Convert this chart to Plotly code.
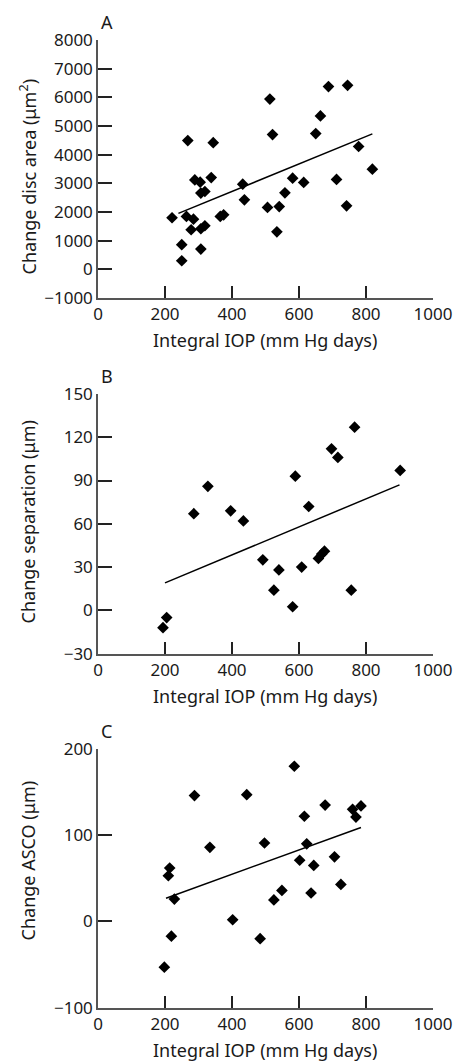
import plotly.graph_objects as go

# Panel A: change in disc area vs integral IOP
a_x = [221, 250, 250, 268, 264, 278, 285, 289, 305, 307, 319, 307, 319, 307, 338, 344,
       365, 375, 432, 437, 506, 513, 521, 534, 541, 558, 581, 614, 650, 664, 688, 712,
       742, 745, 778, 819]
a_y = [1800, 860, 300, 4490, 1845, 1380, 1750, 3120, 3040, 2660, 2715, 1415, 1520, 705,
       3200, 4420, 1845, 1900, 2970, 2425, 2160, 5940, 4700, 1310, 2190, 2670, 3180, 3030,
       4735, 5350, 6375, 3135, 2215, 6420, 4285, 3495]
a_fit_x = [240, 819]
a_fit_y = [1950, 4725]

# Panel B: change in separation
b_x = [194, 205, 286, 328, 396, 434, 492, 525, 540, 581, 589, 608, 629, 658, 668, 676,
       697, 716, 756, 766, 902]
b_y = [-12, -5, 67, 86, 69, 62, 35, 14, 28, 2.5, 93, 30, 72, 36, 39, 41, 112, 106, 14,
       127, 97]
b_fit_x = [200, 900]
b_fit_y = [19, 87]

# Panel C: change in ASCO
c_x = [198, 219, 210, 214, 228, 288, 334, 402, 444, 484, 497, 525, 549, 586, 602, 616,
       623, 636, 644, 678, 706, 725, 760, 770, 785]
c_y = [-53, -17, 53, 62, 26, 146, 86, 2, 147, -20, 91, 25, 36, 180, 71, 122, 90, 33, 65,
       135, 75, 43, 130, 121, 134]
c_fit_x = [203, 785]
c_fit_y = [27, 109]

x_ticks = [0, 200, 400, 600, 800, 1000]
a_ticks = [-1000, 0, 1000, 2000, 3000, 4000, 5000, 6000, 7000, 8000]
b_ticks = [-30, 0, 30, 60, 90, 120, 150]
c_ticks = [-100, 0, 100, 200]

x_title = "Integral IOP (mm Hg days)"
y_titles = ["Change disc area (\u03bcm<sup>2</sup>)", "Change separation (\u03bcm)",
            "Change ASCO (\u03bcm)"]
letters = ["A", "B", "C"]

FONT = "Noto Sans"
FS_TICK = 17
FS = 18
TXT = "#1a1a1a"
W, H = 464, 1061
ML, MR, MT, MB = 98, 24, 40, 53
PW = W - ML - MR
PH = H - MT - MB


def py(pix):
    return (H - MB - pix) / PH


def px(pix):
    return (pix - ML) / PW


panels = [
    (a_x, a_y, a_fit_x, a_fit_y, a_ticks, (40, 298), 176),
    (b_x, b_y, b_fit_x, b_fit_y, b_ticks, (394, 653.6), 522),
    (c_x, c_y, c_fit_x, c_fit_y, c_ticks, (749, 1007.7), 860),
]

fig = go.Figure()
annotations = []
layout_axes = {}
for i, (xs, ys, fx, fy, yt, (top, bot), ytc) in enumerate(panels):
    n = "" if i == 0 else str(i + 1)
    xa, ya = "x" + n, "y" + n
    fig.add_trace(go.Scatter(x=xs, y=ys, mode="markers", xaxis=xa, yaxis=ya,
                             marker=dict(symbol="diamond", size=9, color="black"),
                             showlegend=False, hoverinfo="skip"))
    fig.add_trace(go.Scatter(x=fx, y=fy, mode="lines", xaxis=xa, yaxis=ya,
                             line=dict(color="black", width=1.5),
                             showlegend=False, hoverinfo="skip"))
    common = dict(showline=True, linecolor="#555", linewidth=1.5, ticks="inside",
                  ticklen=14, tickwidth=1.5, tickcolor="#222", showgrid=False,
                  zeroline=False, tickfont=dict(family=FONT, size=FS_TICK, color=TXT))
    layout_axes["xaxis" + n] = dict(common, range=[0, 1000], tickvals=x_ticks,
                                    anchor=ya, domain=[0, 1], ticklen=12)
    layout_axes["yaxis" + n] = dict(common, range=[yt[0], yt[-1]], tickvals=yt,
                                    anchor=xa, domain=[py(bot), py(top)])
    annotations.append(dict(text=y_titles[i], xref="paper", yref="paper",
                            x=px(27), y=py(ytc), xanchor="center", yanchor="middle",
                            textangle=-90, showarrow=False,
                            font=dict(family=FONT, size=FS, color=TXT)))
    annotations.append(dict(text=x_title, xref="paper", yref="paper",
                            x=px(268), y=py(bot + 42), xanchor="center", yanchor="middle",
                            showarrow=False, font=dict(family=FONT, size=FS, color=TXT)))
    annotations.append(dict(text=letters[i], xref="paper", yref="paper",
                            x=px(99), y=py(top - 18), xanchor="left", yanchor="middle",
                            showarrow=False, font=dict(family=FONT, size=FS, color=TXT)))

fig.update_layout(width=W, height=H, margin=dict(l=ML, r=MR, t=MT, b=MB),
                  paper_bgcolor="white", plot_bgcolor="white",
                  annotations=annotations, **layout_axes)
fig.write_html("out.html", config={"displayModeBar": False},
               post_script="document.body.style.margin='0';document.body.style.overflow='hidden';")
